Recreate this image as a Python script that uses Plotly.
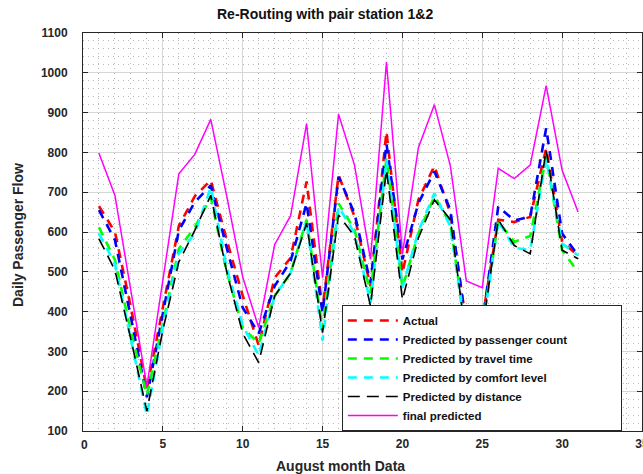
import plotly.graph_objects as go

days = list(range(1, 32))

actual = [665, 600, 410, 205, 410, 615, 690, 730, 580, 440, 315, 485, 535, 727, 406, 743,
          639, 464, 852, 497, 681, 766, 647, 370, 380, 631, 625, 638, 810, 575, 541]
pred_passenger = [655, 580, 385, 185, 395, 604, 675, 717, 560, 410, 345, 464, 527, 672, 397, 739,
                  647, 472, 822, 531, 672, 752, 656, 360, 370, 664, 629, 638, 861, 596, 541]
pred_travel = [612, 530, 350, 190, 370, 558, 612, 687, 500, 360, 320, 439, 497, 631, 356, 672,
               606, 447, 785, 460, 597, 689, 622, 340, 360, 627, 575, 590, 789, 554, 499]
pred_comfort = [596, 520, 330, 140, 360, 546, 596, 712, 510, 365, 290, 439, 497, 627, 327, 664,
                597, 422, 781, 460, 602, 697, 614, 330, 350, 627, 560, 555, 785, 571, 541]
pred_distance = [583, 504, 330, 150, 354, 525, 604, 692, 500, 345, 272, 439, 497, 622, 347, 643,
                 589, 414, 756, 430, 585, 681, 631, 330, 350, 631, 566, 545, 806, 554, 533]
final_pred = [798, 692, 452, 212, 479, 746, 795, 883, 690, 487, 360, 568, 641, 872, 485, 896,
              768, 531, 1027, 545, 812, 920, 766, 477, 460, 760, 734, 768, 968, 755, 650]

x_ticks = [0, 5, 10, 15, 20, 25, 30, 35]

series = [
    ("Actual", actual, "#ff0000", 2.6, "9px,7px"),
    ("Predicted by passenger count", pred_passenger, "#0000ff", 2.6, "9px,7px"),
    ("Predicted by travel time", pred_travel, "#00ff00", 2.6, "9px,7px"),
    ("Predicted by comfort level", pred_comfort, "#00ffff", 2.6, "9px,7px"),
    ("Predicted by distance", pred_distance, "#000000", 1.6, "12px,7px"),
    ("final predicted", final_pred, "#ff00ff", 1.5, "solid"),
]

FONT = "Liberation Sans, Arial, sans-serif"
DARK = "#262626"
PAD = "\u00a0" * 15  # widen the legend box like the reference

fig = go.Figure()
for name, vals, color, w, dash in series:
    label = name + PAD if name == "Predicted by passenger count" else name
    fig.add_trace(go.Scatter(x=days, y=vals, mode="lines", name=label,
                             line=dict(color=color, width=w, dash=dash)))

axis_common = dict(
    showgrid=True, gridcolor="#d6d6d6", gridwidth=1,
    zeroline=False, showline=True, linecolor=DARK, linewidth=1,
    mirror="allticks", ticks="inside", ticklen=5, tickcolor=DARK,
    ticklabeloverflow="allow", automargin=False,
    tickfont=dict(family=FONT, size=12, color=DARK, weight="bold"),
)

# the corner label "0" is drawn as an annotation (the axis tends to drop it)
x_ticktext = ["" if v == x_ticks[0] else str(v) for v in x_ticks]

fig.update_layout(
    width=643, height=474,
    margin=dict(l=83, r=1, t=33, b=43),
    paper_bgcolor="white", plot_bgcolor="white",
    font=dict(family=FONT, color=DARK),
    xaxis=dict(range=[0, 35], tickmode="array", tickvals=x_ticks,
               ticktext=x_ticktext, ticklabelstandoff=2,
               minor=dict(dtick=1, showgrid=True, griddash="1px,4px",
                          gridcolor="#b8b8b8", gridwidth=1, ticks=""),
               **axis_common),
    yaxis=dict(range=[100, 1100], tick0=100, dtick=100, ticklabelstandoff=12,
               minor=dict(dtick=20, showgrid=True, griddash="1px,4px",
                          gridcolor="#b8b8b8", gridwidth=1, ticks=""),
               **axis_common),
    legend=dict(x=0.463, y=0.3166, xanchor="left", yanchor="top",
                bgcolor="white", bordercolor=DARK, borderwidth=1,
                itemwidth=50,
                font=dict(family=FONT, size=11.5, color="#111111", weight="bold")),
    showlegend=True,
    annotations=[
        dict(text="<b>%d</b>" % x_ticks[0], xref="paper", yref="paper",
             x=0.002, y=-0.012, xanchor="center", yanchor="top",
             showarrow=False, font=dict(family=FONT, size=12, color=DARK)),
        dict(text="Re-Routing with pair station 1&2", xref="paper", yref="paper",
             x=(325 - 83) / 559, y=(431 - 14) / 398, xanchor="center", yanchor="middle",
             showarrow=False, font=dict(family=FONT, size=14, color="#111111", weight="bold")),
        dict(text="August month Data", xref="paper", yref="paper",
             x=(340 - 83) / 559, y=(431 - 466) / 398, xanchor="center", yanchor="middle",
             showarrow=False, font=dict(family=FONT, size=14, color=DARK, weight="bold")),
        dict(text="Daily Passenger Flow", xref="paper", yref="paper",
             x=(18 - 83) / 559, y=(431 - 235) / 398, xanchor="center", yanchor="middle",
             textangle=-90, showarrow=False,
             font=dict(family=FONT, size=14, color=DARK, weight="bold")),
    ],
)

fig.write_html("out.html")
